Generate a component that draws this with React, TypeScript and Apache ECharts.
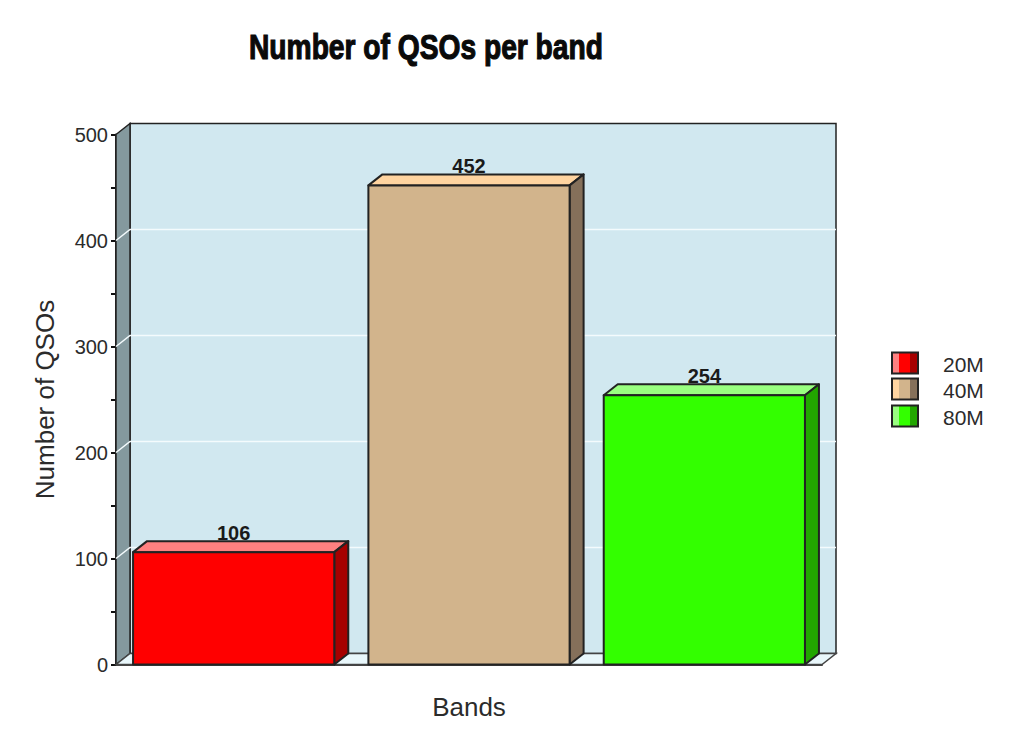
import React, { useEffect, useRef } from "react";
import * as echarts from "echarts";

const bands = ["20M", "40M", "80M"];
const qsos = [106, 452, 254];
const frontColors = ["#ff0000", "#d2b48c", "#33ff00"];
const topColors = ["#ff8080", "#ffd4a0", "#99ff80"];
const sideColors = ["#a60000", "#85705a", "#22a600"];
const gridValues = [100, 200, 300, 400];
const DX = 14;
const DY = 11;
const OUT = "#222222";

export default function App() {
  const ref = useRef<HTMLDivElement>(null);
  useEffect(() => {
    const chart = echarts.init(ref.current!, undefined, { renderer: "svg" });
    const legendTop = [352.5, 378.5, 405.5];
    const legendGraphic: any[] = [
      {
        type: "text",
        x: 249,
        y: 47,
        scaleX: 0.783,
        style: { text: "Number of QSOs per band", fontFamily: "Liberation Sans", fontWeight: "bold", fontSize: 36, fill: "#0a0a0a", stroke: "#0a0a0a", lineWidth: 1.2, textAlign: "left", textVerticalAlign: "middle" },
      },
    ];
    bands.forEach((b, i) => {
      const x = 892, y = legendTop[i];
      legendGraphic.push(
        { type: "rect", shape: { x, y, width: 7, height: 21 }, style: { fill: topColors[i] } },
        { type: "rect", shape: { x: x + 7, y, width: 11, height: 21 }, style: { fill: frontColors[i] } },
        { type: "rect", shape: { x: x + 18, y, width: 8, height: 21 }, style: { fill: sideColors[i] } },
        { type: "rect", shape: { x, y, width: 26, height: 21 }, style: { fill: "none", stroke: OUT, lineWidth: 2 } },
        { type: "text", x: 943, y: y + 12, style: { text: b, fontFamily: "Liberation Sans", fontSize: 21, fill: "#2b2b2b", textVerticalAlign: "middle", textAlign: "left" } }
      );
    });

    chart.setOption({
      animation: false,
      backgroundColor: "#ffffff",
      grid: { left: 116, top: 134.5, width: 706, height: 530 },
      xAxis: {
        type: "category",
        data: bands,
        name: "Bands",
        nameLocation: "middle",
        nameGap: 29.5,
        nameTextStyle: { fontFamily: "Liberation Sans", fontSize: 26, color: "#2b2b2b" },
        axisLine: { show: true, lineStyle: { color: "#444444", width: 2 } },
        axisTick: { show: false },
        axisLabel: { show: false },
      },
      yAxis: {
        type: "value",
        min: 0,
        max: 500,
        interval: 100,
        name: "Number of QSOs",
        nameLocation: "middle",
        nameGap: 58,
        nameTextStyle: { fontFamily: "Liberation Sans", fontSize: 26, color: "#2b2b2b" },
        axisLine: { show: true, lineStyle: { color: "#222222", width: 2 } },
        axisTick: { show: true, length: 5, lineStyle: { color: "#111111", width: 2 } },
        minorTick: { show: true, splitNumber: 2, length: 5, lineStyle: { color: "#111111", width: 2 } },
        axisLabel: { fontFamily: "Liberation Sans", fontSize: 20, color: "#2b2b2b", margin: 8 },
        splitLine: { show: false },
      },
      graphic: legendGraphic,
      series: [
        {
          type: "custom",
          name: "walls",
          silent: true,
          clip: false,
          data: [0],
          encode: { y: 0 },
          renderItem: (params: any) => {
            const c = params.coordSys;
            const l = c.x, r = c.x + c.width, t = c.y, b = c.y + c.height;
            return {
              type: "group",
              children: [
                { type: "polygon", shape: { points: [[l + DX, t - DY], [r + DX, t - DY], [r + DX, b - DY], [l + DX, b - DY]] }, style: { fill: "#d1e8f0", stroke: OUT, lineWidth: 1.5 } },
                { type: "polygon", shape: { points: [[l, t], [l + DX, t - DY], [l + DX, b - DY], [l, b]] }, style: { fill: "#84999e", stroke: OUT, lineWidth: 1.5 } },
                { type: "polygon", shape: { points: [[l, b], [l + DX, b - DY], [r + DX, b - DY], [r, b]] }, style: { fill: "#e9f7fb", stroke: "#444444", lineWidth: 1.5 } },
              ],
            };
          },
        },
        {
          type: "custom",
          name: "grid lines",
          silent: true,
          clip: false,
          data: gridValues,
          encode: { y: 0 },
          renderItem: (params: any, api: any) => {
            const c = params.coordSys;
            const y = api.coord([0, api.value(0)])[1];
            return {
              type: "polyline",
              shape: { points: [[c.x, y], [c.x + DX, y - DY], [c.x + c.width + DX, y - DY]] },
              style: { fill: "none", stroke: "#f4fbfd", lineWidth: 1.5 },
            };
          },
        },
        {
          type: "custom",
          name: "QSOs",
          clip: false,
          data: qsos.map((v, i) => [i, v]),
          encode: { x: 0, y: 1 },
          renderItem: (params: any, api: any) => {
            const i = api.value(0);
            const top = api.coord([i, api.value(1)]);
            const base = api.coord([i, 0]);
            const w = api.size([1, 0])[0] * 0.855;
            const l = top[0] - w / 2, r = top[0] + w / 2, t = top[1], b = base[1];
            const edge = { stroke: OUT, lineWidth: 2, lineJoin: "round" };
            return {
              type: "group",
              children: [
                { type: "polygon", shape: { points: [[l, t], [l + DX, t - DY], [r + DX, t - DY], [r, t]] }, style: { fill: topColors[i], ...edge } },
                { type: "polygon", shape: { points: [[r, t], [r + DX, t - DY], [r + DX, b - DY], [r, b]] }, style: { fill: sideColors[i], ...edge } },
                { type: "rect", shape: { x: l, y: t, width: w, height: b - t }, style: { fill: frontColors[i], ...edge } },
                { type: "text", x: top[0], y: t - 19.5, style: { text: String(api.value(1)), fontFamily: "Liberation Sans", fontWeight: "bold", fontSize: 20, fill: "#1a1a1a", textAlign: "center", textVerticalAlign: "middle" } },
              ],
            };
          },
        },
      ],
    });
    return () => chart.dispose();
  }, []);
  return <div ref={ref} style={{ position: "fixed", left: 0, top: 0, width: 1023, height: 735 }} />;
}
